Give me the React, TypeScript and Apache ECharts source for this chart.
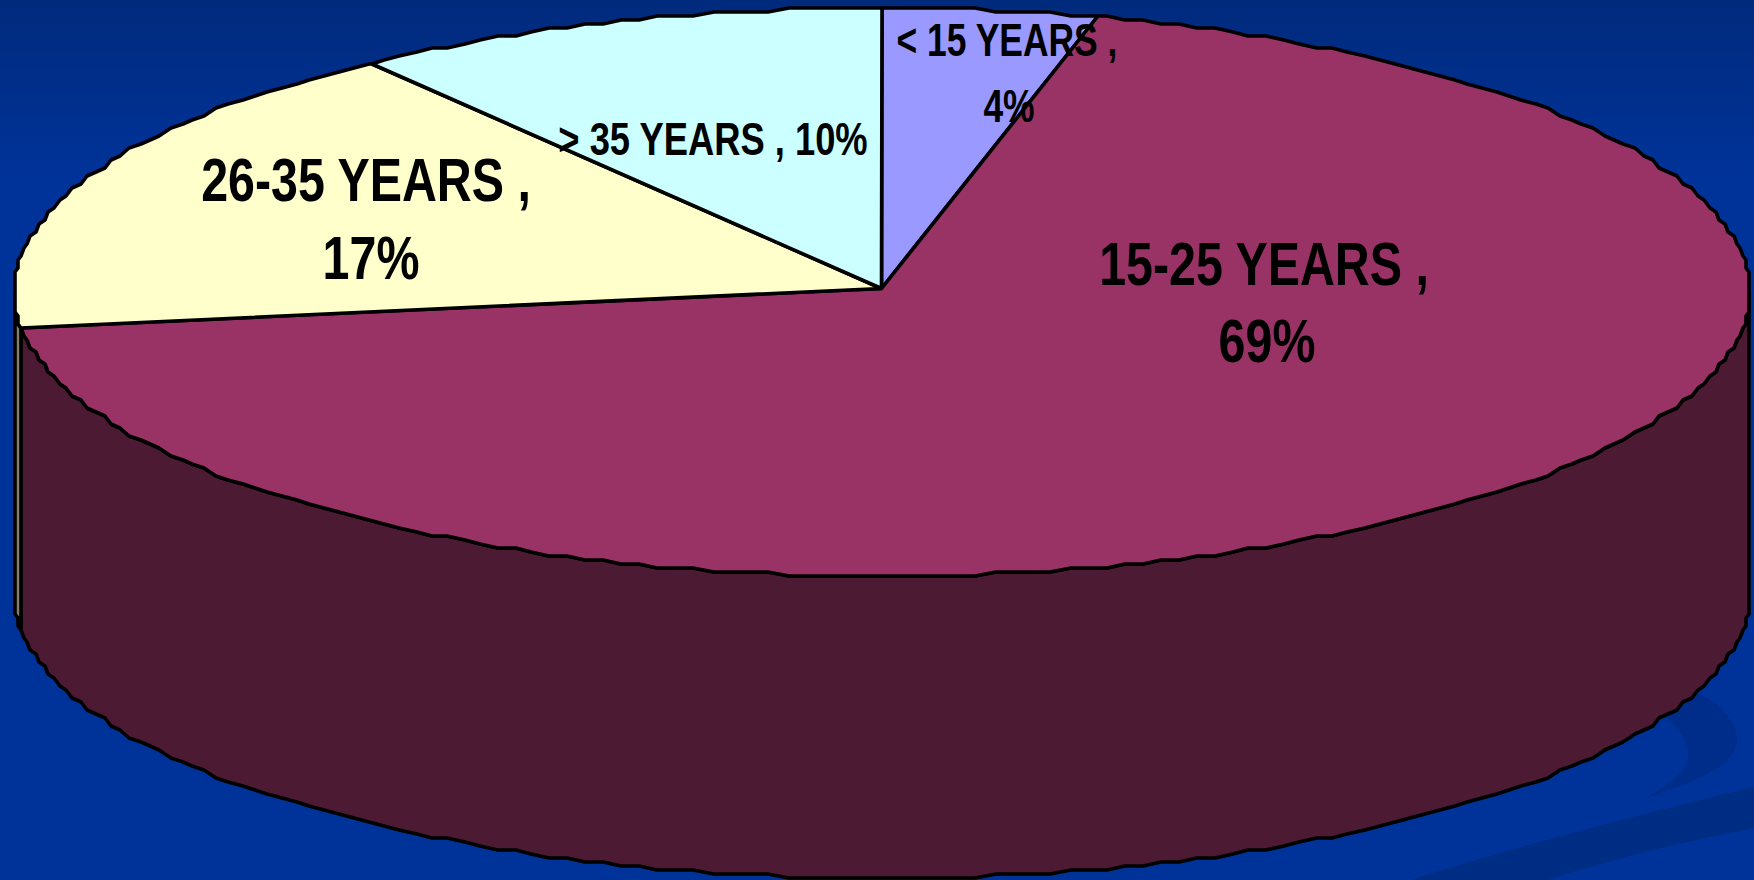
import React, { useEffect, useRef } from "react";
import * as echarts from "echarts";

// Age groups and their shares, clockwise from twelve o'clock.
const ageGroups = ["< 15 YEARS", "15-25 YEARS", "26-35 YEARS", "> 35 YEARS"];
const shares = [4, 69, 17, 10];
const labelBreaks = [true, true, true, false];

const topColors = ["#9999ff", "#993366", "#ffffcc", "#ccffff"];
const sideColors = ["#4d4d80", "#4c1b33", "#808066", "#668080"];

const WIDTH = 1754;
const HEIGHT = 880;

// Tilted disc geometry.
const CX = 882;
const CY = 292;
const RX = 868;
const RY = 284;
const APEX = { x: 881.5, y: 288.5 };
const DEPTH = 302;

const labelPlacement = [
  { x: 1007, y: 40, size: 46, squeeze: 0.77, gap: 66, shift: 2 },
  { x: 1264, y: 264, size: 62, squeeze: 0.78, gap: 77, shift: 3 },
  { x: 366, y: 180, size: 62, squeeze: 0.78, gap: 78, shift: 5 },
  { x: 713, y: 139, size: 46, squeeze: 0.79, gap: 0, shift: 0 },
];

echarts.graphic.registerShape(
  "bgBand",
  echarts.graphic.extendPath(
    "M1410 880 C1520 845 1640 815 1754 787 L1754 828 C1680 842 1610 860 1547 880 Z",
    {}
  )
);
echarts.graphic.registerShape(
  "bgCrescent",
  echarts.graphic.extendPath(
    "M1643 799 C1700 780 1737 765 1737 740 C1737 720 1720 703 1697 693 L1667 718 C1680 730 1688 742 1688 755 C1688 772 1665 788 1643 799 Z",
    {}
  )
);

// Rim coordinates step slightly, which gives the edge its coarse outline.
function rimPoint(deg: number): number[] {
  const t = (deg * Math.PI) / 180;
  const x = CX + RX * Math.sin(t);
  const y = CY - RY * Math.cos(t);
  return [Math.round(x / 3) * 3, Math.round(y / 4) * 4];
}

function rimArc(from: number, to: number): number[][] {
  const step = 1.25;
  const pts: number[][] = [rimPoint(from)];
  let a = Math.ceil(from / step + 1e-6) * step;
  while (a < to) {
    pts.push(rimPoint(a));
    a += step;
  }
  pts.push(rimPoint(to));
  return pts;
}

const total = shares.reduce((s, v) => s + v, 0);

function sliceAngles(index: number): [number, number] {
  let sum = 0;
  for (let i = 0; i < index; i++) sum += shares[i];
  const a0 = (sum / total) * 360;
  return [a0, a0 + (shares[index] / total) * 360];
}

const outline = { stroke: "#000000", lineWidth: 3.6, lineJoin: "round" as const };

function labelLine(i: number, text: string, dx: number, dy: number) {
  const place = labelPlacement[i];
  return {
    type: "text",
    z2: 10,
    x: place.x + dx,
    y: place.y + dy,
    scaleX: place.squeeze,
    style: {
      text,
      fill: "#000000",
      font: `bold ${place.size}px "Liberation Sans", Arial, sans-serif`,
      align: "center",
      verticalAlign: "middle",
    },
  };
}

function renderSlice(params: any) {
  const i = params.dataIndex;
  const [a0, a1] = sliceAngles(i);
  const children: any[] = [];

  // Only the part of the wall facing the viewer is visible: 90° to 270°.
  const s0 = Math.max(a0, 90);
  const s1 = Math.min(a1, 270);
  if (s1 > s0) {
    const top = rimArc(s0, s1);
    const bottom = top
      .slice()
      .reverse()
      .map((p, k) => {
        // The left silhouette of the wall ends just above the base rim.
        const drop = k === 0 && s1 === 270 && s0 > 200 ? DEPTH + 20 : DEPTH;
        return [p[0], p[1] + drop];
      });
    children.push({
      type: "polygon",
      z2: 1,
      shape: { points: top.concat(bottom) },
      style: { fill: sideColors[i], ...outline },
    });
  }

  children.push({
    type: "polygon",
    z2: 2,
    shape: { points: [[APEX.x, APEX.y], ...rimArc(a0, a1)] },
    style: { fill: topColors[i], ...outline },
  });

  const place = labelPlacement[i];
  if (labelBreaks[i]) {
    children.push(labelLine(i, `${ageGroups[i]} ,`, 0, 0));
    children.push(labelLine(i, `${shares[i]}%`, place.shift, place.gap));
  } else {
    children.push(labelLine(i, `${ageGroups[i]} , ${shares[i]}%`, 0, 0));
  }

  return { type: "group", children };
}

export default function App() {
  const ref = useRef<HTMLDivElement>(null);

  useEffect(() => {
    const chart = echarts.init(ref.current, null, { renderer: "svg" });
    chart.setOption({
      animation: false,
      backgroundColor: {
        type: "linear",
        x: 0,
        y: 0,
        x2: 0,
        y2: 1,
        colorStops: [
          { offset: 0, color: "#002a7c" },
          { offset: 0.2, color: "#003399" },
          { offset: 1, color: "#003399" },
        ],
      },
      graphic: {
        elements: [
          { type: "bgBand", z: 0, style: { fill: "#002d84" } },
          { type: "bgCrescent", z: 0, style: { fill: "#002d8a" } },
        ],
      },
      series: [
        {
          type: "custom",
          coordinateSystem: "none",
          silent: true,
          clip: false,
          data: shares.map((v, i) => ({ name: ageGroups[i], value: v })),
          renderItem: renderSlice,
        },
      ],
    });
    return () => chart.dispose();
  }, []);

  return (
    <div
      ref={ref}
      style={{ position: "fixed", left: 0, top: 0, width: WIDTH, height: HEIGHT }}
    />
  );
}
